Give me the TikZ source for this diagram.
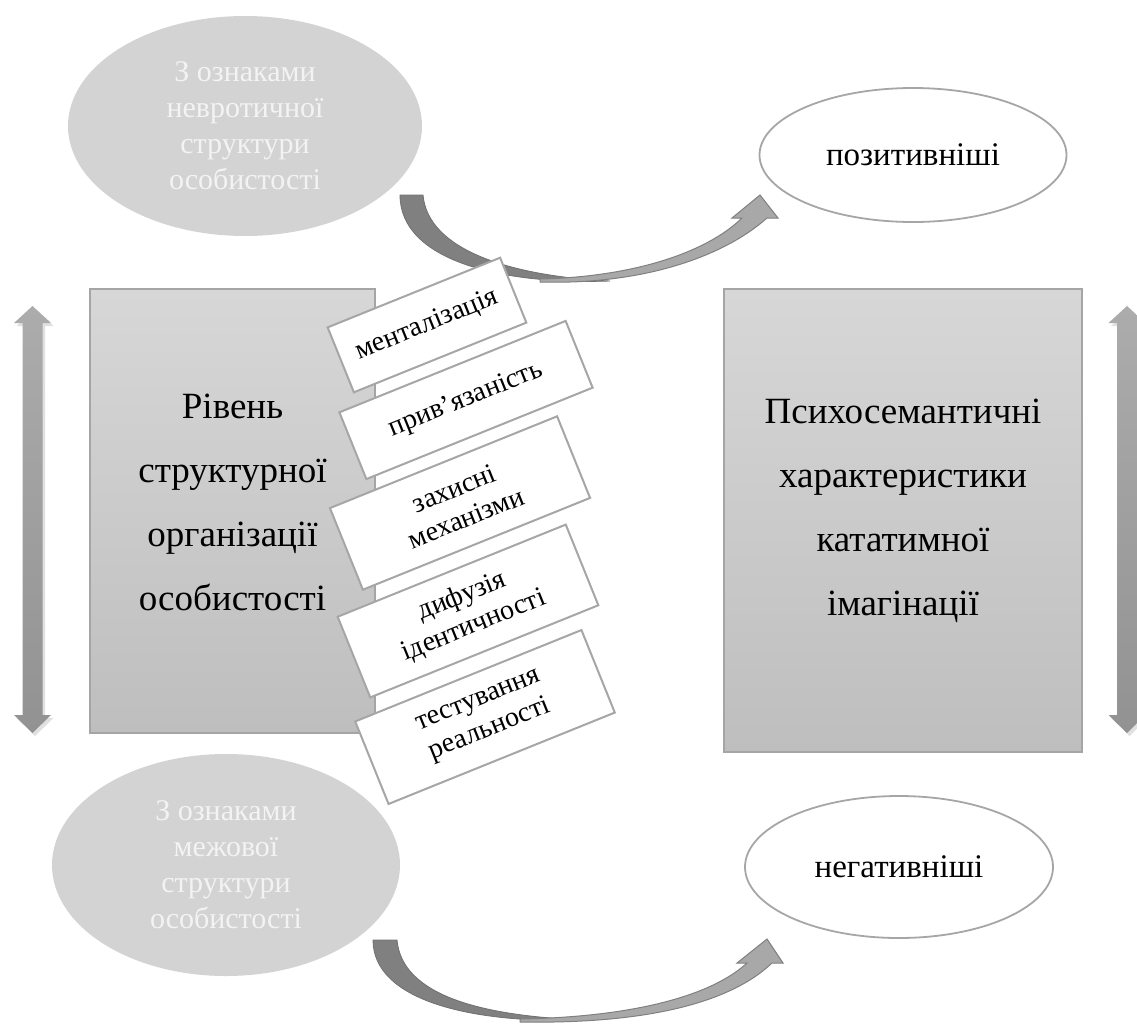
\documentclass[tikz,border=0pt]{standalone}
\usepackage{fontspec}
\setmainfont{Liberation Serif}
\usetikzlibrary{shapes.geometric}
\definecolor{ellgray}{RGB}{211,211,211}
\definecolor{linegray}{RGB}{166,166,166}
\definecolor{rectline}{RGB}{165,165,165}
\definecolor{recttop}{RGB}{215,215,215}
\definecolor{rectbottom}{RGB}{190,190,190}
\definecolor{txtwhite}{RGB}{243,243,243}
\definecolor{darkarrow}{RGB}{128,128,128}
\definecolor{darkarrowline}{RGB}{112,112,112}
\definecolor{lightarrow}{RGB}{168,168,168}
\definecolor{vtop}{RGB}{172,172,172}
\definecolor{vbottom}{RGB}{146,146,146}
\begin{document}
\begin{tikzpicture}[x=1pt,y=-1pt,
  grayell/.style={ellipse, fill=ellgray, draw=none, inner sep=0pt, align=center,
     text=txtwhite, font=\fontsize{30}{36}\selectfont},
  whiteell/.style={ellipse, fill=white, draw=linegray, line width=1.8pt, inner sep=0pt,
     font=\fontsize{33}{40}\selectfont},
  bigrect/.style={rectangle, draw=rectline, line width=1.3pt, top color=recttop,
     bottom color=rectbottom, inner sep=0pt},
  bigtext/.style={align=center, inner sep=0pt, font=\fontsize{37}{64}\selectfont},
  tilted/.style={rectangle, draw=linegray, line width=2pt, fill=white, rotate=22,
     inner sep=0pt, align=center, font=\fontsize{28}{32}\selectfont},
  darkband/.style={fill=darkarrow, draw=darkarrowline, line width=0.8pt},
  lightband/.style={fill=lightarrow, draw=darkarrow, line width=1pt},
  vshadow/.style={fill=black, opacity=0.12, draw=none},
  varrow/.style={top color=vtop, bottom color=vbottom, draw=none}
]
\useasboundingbox (0,0) rectangle (1137,1023);
\clip (0,0) rectangle (1137,1023);

% vertical double arrows
\foreach \cx/\nm in {32.5/vl, 1127/vr} {
  \fill[vshadow] ([shift={(2.5,3)}]\cx,306) -- ++(18.5,17) -- ++(-8.5,0) -- ++(0,392)
     -- ++(8.5,0) -- ++(-18.5,18) -- ++(-18.5,-18) -- ++(8.5,0) -- ++(0,-392) -- ++(-8.5,0) -- cycle;
  \path[varrow] (\cx,306) -- ++(18.5,17) -- ++(-8.5,0) -- ++(0,392)
     -- ++(8.5,0) -- ++(-18.5,18) -- ++(-18.5,-18) -- ++(8.5,0) -- ++(0,-392) -- ++(-8.5,0) -- cycle;
}

% ellipses
\node[grayell, minimum width=354pt, minimum height=220pt] (e1) at (245,126)
  {З ознаками\\невротичної\\структури\\особистості};
\node[grayell, minimum width=348pt, minimum height=222pt] (e2) at (226,865)
  {З ознаками\\межової\\структури\\особистості};
\node[whiteell, minimum width=307pt, minimum height=134pt] (e3) at (913,155) {позитивніші};
\node[whiteell, minimum width=308pt, minimum height=142pt] (e4) at (899,867) {негативніші};

% big rectangles
\node[bigrect, minimum width=285pt, minimum height=444pt] (lr) at (232.5,511) {};
\node[bigtext] (lrt) at (232.5,502) {Рівень\\структурної\\організації\\особистості};
\node[bigrect, minimum width=358pt, minimum height=463pt] (rr) at (903,520.5) {};
\node[bigtext] (rrt) at (903,511) {Психосемантичні\\характеристики\\кататимної\\імагінації};

% curved arrows (top)
\path[darkband] (400,195) -- (423,195) .. controls (428,250) and (510,276) .. (610,281)
   .. controls (500,285) and (400,260) .. (400,195) -- cycle;
\path[lightband] (540,282) .. controls (640,285) and (722,258) .. (767,218) -- (778,218)
   -- (760,195) -- (732,218) -- (742,218) .. controls (705,254) and (630,277) .. (540,279) -- cycle;

% curved arrows (bottom)
\path[darkband] (373,940) -- (397,940) .. controls (402,995) and (480,1016) .. (585,1020)
   .. controls (470,1024) and (373,1000) .. (373,940) -- cycle;
\path[lightband] (520,1022) .. controls (640,1024) and (728,1005) .. (772,963) -- (783,963)
   -- (767,939) -- (737,963) -- (747,963) .. controls (710,997) and (630,1017) .. (520,1019) -- cycle;

% tilted boxes
\node[tilted, minimum width=186pt, minimum height=70pt] (b1) at (427,325) {менталізація};
\node[tilted, minimum width=244pt, minimum height=72pt] (b2) at (466,400) {прив’язаність};
\node[tilted, minimum width=245pt, minimum height=88pt] (b3) at (460,503) {захисні\\механізми};
\node[tilted, minimum width=246pt, minimum height=87pt] (b4) at (468,611) {дифузія\\ідентичності};
\node[tilted, minimum width=244pt, minimum height=89pt] (b5) at (485,717) {тестування\\реальності};
\end{tikzpicture}
\end{document}
